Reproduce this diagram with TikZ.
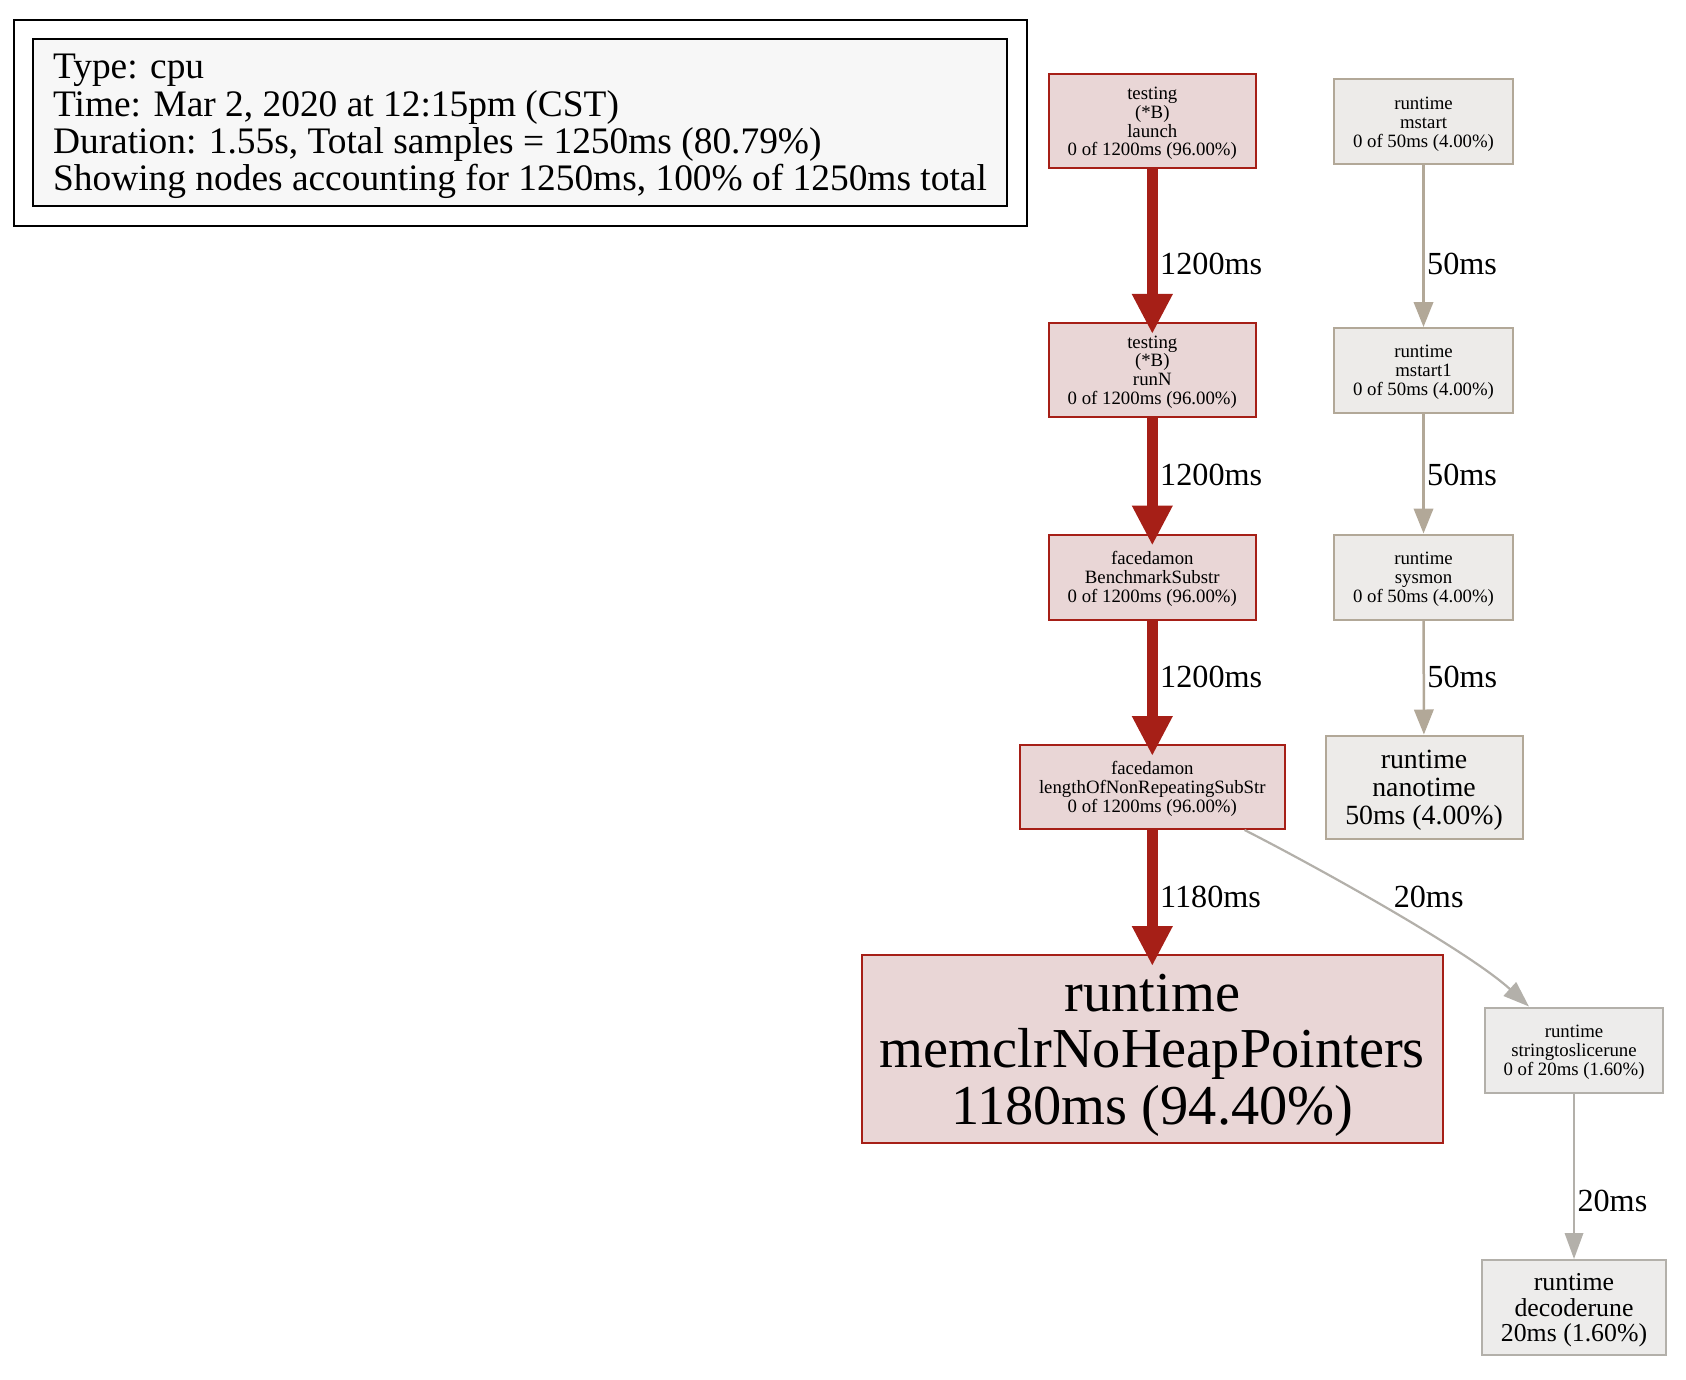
\documentclass[tikz,border=0pt]{standalone}
\usepackage{fontspec}
\setmainfont{Liberation Serif}
\usetikzlibrary{arrows.meta}
\definecolor{hotline}{RGB}{166,31,23}
\definecolor{hotfill}{RGB}{233,214,214}
\definecolor{warmline}{RGB}{178,168,152}
\definecolor{warmfill}{RGB}{237,235,233}
\definecolor{coolline}{RGB}{179,176,170}
\definecolor{coolfill}{RGB}{237,236,235}
\definecolor{legendfill}{RGB}{247,247,247}
\newcommand{\fsz}[1]{\fontsize{#1}{#1}\selectfont}

\begin{document}
\begin{tikzpicture}[x=0.5pt, y=-0.5pt,
		box/.style={draw, line width=1pt, rectangle, align=center, inner sep=0pt, text depth=0pt},
		hot/.style={box, draw=hotline, fill=hotfill},
		warm/.style={box, draw=warmline, fill=warmfill},
		cool/.style={box, draw=coolline, fill=coolfill},
		small/.style={font=\fsz{9.4}},
		hotedge/.style={draw=hotline, line width=5.5pt, -{Triangle[length=20pt, width=19pt]}, shorten >=-6pt},
		warmedge/.style={draw=warmline, line width=1.25pt, -{Triangle[length=12.5pt, width=9.7pt]}},
		cooledge/.style={draw=coolline, line width=1.1pt, -{Triangle[length=13pt, width=9.2pt]}},
		elabel/.style={font=\fsz{16.1}, anchor=west, inner xsep=1.2pt, inner ysep=0pt}]
		\useasboundingbox (0,0) rectangle (1686,1380);
		\node[draw, line width=1.2pt, fill=legendfill, align=left, inner xsep=10pt, minimum width=486pt, minimum height=83.5pt, text depth=0pt, font=\fsz{18.7}] (legend) at (520,122.5) {Type: cpu\\Time: Mar 2, 2020 at 12:15pm (CST)\\Duration: 1.55s, Total samples = 1250ms (80.79\%)\\Showing nodes accounting for 1250ms, 100\% of 1250ms total};
		\draw[line width=1.2pt] ([shift={(-18,-18)}]legend.north west) rectangle ([shift={(19,19)}]legend.south east);
		\node[hot, small, minimum width=103.75pt, minimum height=47pt] (launch) at (1152.3,121.5) {testing\\(*B)\\launch\\0 of 1200ms (96.00\%)};
		\node[hot, small, minimum width=103.75pt, minimum height=47pt] (runN) at (1152.3,370) {testing\\(*B)\\runN\\0 of 1200ms (96.00\%)};
		\node[hot, small, minimum width=103.75pt, minimum height=42.5pt] (bench) at (1152.3,577) {facedamon\\BenchmarkSubstr\\0 of 1200ms (96.00\%)};
		\node[hot, small, minimum width=132.8pt, minimum height=42pt] (length) at (1152.3,787) {facedamon\\lengthOfNonRepeatingSubStr\\0 of 1200ms (96.00\%)};
		\node[hot, font=\fsz{28.2}, minimum width=290.5pt, minimum height=94pt] (memclr) at (1152.3,1049) {runtime\\memclrNoHeapPointers\\1180ms (94.40\%)};
		\node[warm, small, minimum width=89.5pt, minimum height=42.5pt] (mstart) at (1423.5,122) {runtime\\mstart\\0 of 50ms (4.00\%)};
		\node[warm, small, minimum width=89.5pt, minimum height=42.5pt] (mstartone) at (1423.5,370.5) {runtime\\mstart1\\0 of 50ms (4.00\%)};
		\node[warm, small, minimum width=89.5pt, minimum height=42.5pt] (sysmon) at (1423.5,577) {runtime\\sysmon\\0 of 50ms (4.00\%)};
		\node[warm, font=\fsz{13.9}, minimum width=98.5pt, minimum height=51.5pt] (nanotime) at (1424,787) {runtime\\nanotime\\50ms (4.00\%)};
		\node[cool, small, minimum width=89pt, minimum height=42.5pt] (slicerune) at (1574,1050) {runtime\\stringtoslicerune\\0 of 20ms (1.60\%)};
		\node[cool, font=\fsz{12.9}, minimum width=92pt, minimum height=47.5pt] (decoderune) at (1574,1307.5) {runtime\\decoderune\\20ms (1.60\%)};
		\draw[hotedge] (launch) -- node[elabel, pos=0.62] (l1) {1200ms} (runN);
		\draw[hotedge] (runN) -- node[elabel, pos=0.496] (l2) {1200ms} (bench);
		\draw[hotedge] (bench) -- node[elabel, pos=0.461] (l3) {1200ms} (length);
		\draw[hotedge] (length) -- node[elabel, pos=0.538] (l4) {1180ms} (memclr);
		\draw[warmedge] (mstart) -- node[elabel, pos=0.612] (l5) {50ms} (mstartone);
		\draw[warmedge] (mstartone) -- node[elabel, pos=0.513] (l6) {50ms} (sysmon);
		\draw[warmedge] (sysmon) -- node[elabel, pos=0.499] (l7) {50ms} (nanotime);
		\draw[cooledge] (length.-25) .. controls (1300,858) and (1465,948) .. node[elabel, pos=0.5, xshift=3.35pt, yshift=4.9pt] (l8) {20ms} (slicerune.136);
		\draw[cooledge] (slicerune) -- node[elabel, pos=0.648] (l9) {20ms} (decoderune);
	\end{tikzpicture}
\end{document}
